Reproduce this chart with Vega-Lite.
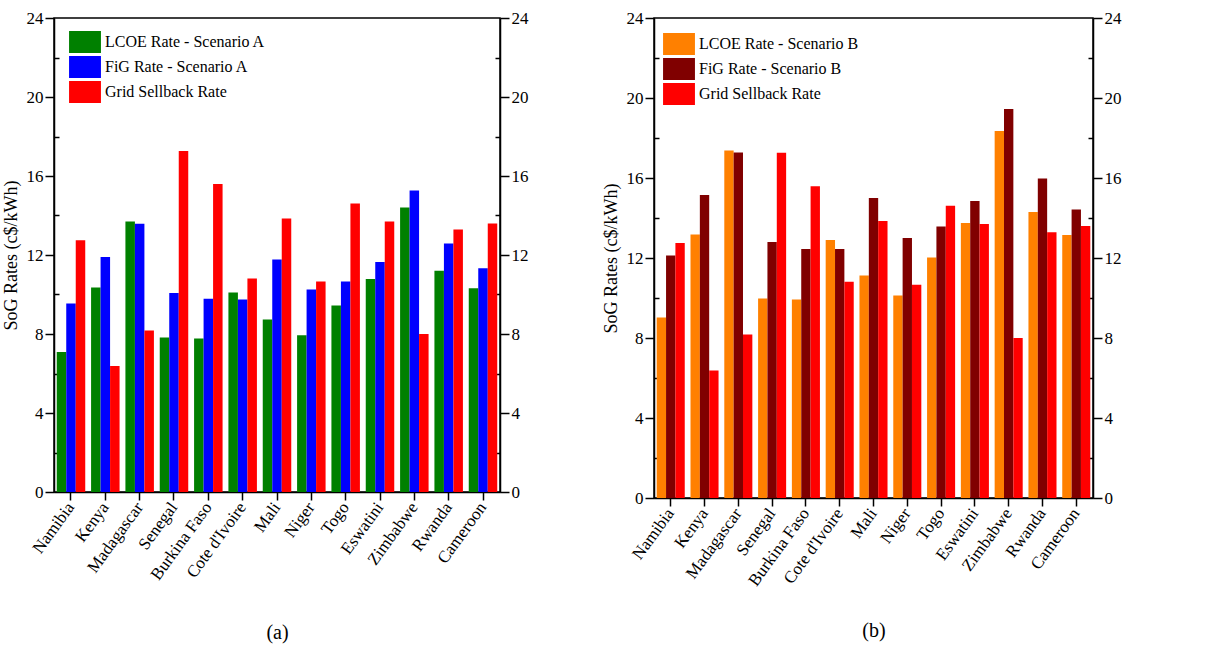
{
  "$schema": "https://vega.github.io/schema/vega-lite/v6.json",
  "background": "white",
  "padding": {"left": 1, "right": 5, "top": 8, "bottom": 5},
  "config": {
    "font": "Liberation Serif",
    "view": {"stroke": "black", "strokeWidth": 1.5},
    "axis": {"labelFont": "Liberation Serif", "titleFont": "Liberation Serif", "labelFontSize": 17, "titleFontSize": 18, "labelColor": "black", "titleColor": "black", "domainColor": "black", "tickColor": "black", "domainWidth": 1.5, "tickWidth": 1.5, "grid": false, "titleFontWeight": "normal"},
    "legend": {"labelFont": "Liberation Serif", "labelFontSize": 16, "labelColor": "black", "padding": 0}
  },
  "datasets": {
    "a": [
      {"country": "Namibia", "series": "LCOE Rate - Scenario A", "value": 7.09},
      {"country": "Namibia", "series": "FiG Rate - Scenario A", "value": 9.54},
      {"country": "Namibia", "series": "Grid Sellback Rate", "value": 12.75},
      {"country": "Kenya", "series": "LCOE Rate - Scenario A", "value": 10.35},
      {"country": "Kenya", "series": "FiG Rate - Scenario A", "value": 11.9},
      {"country": "Kenya", "series": "Grid Sellback Rate", "value": 6.38},
      {"country": "Madagascar", "series": "LCOE Rate - Scenario A", "value": 13.7},
      {"country": "Madagascar", "series": "FiG Rate - Scenario A", "value": 13.58},
      {"country": "Madagascar", "series": "Grid Sellback Rate", "value": 8.18},
      {"country": "Senegal", "series": "LCOE Rate - Scenario A", "value": 7.82},
      {"country": "Senegal", "series": "FiG Rate - Scenario A", "value": 10.07},
      {"country": "Senegal", "series": "Grid Sellback Rate", "value": 17.26},
      {"country": "Burkina Faso", "series": "LCOE Rate - Scenario A", "value": 7.77},
      {"country": "Burkina Faso", "series": "FiG Rate - Scenario A", "value": 9.78},
      {"country": "Burkina Faso", "series": "Grid Sellback Rate", "value": 15.59},
      {"country": "Cote d'Ivoire", "series": "LCOE Rate - Scenario A", "value": 10.1},
      {"country": "Cote d'Ivoire", "series": "FiG Rate - Scenario A", "value": 9.75},
      {"country": "Cote d'Ivoire", "series": "Grid Sellback Rate", "value": 10.81},
      {"country": "Mali", "series": "LCOE Rate - Scenario A", "value": 8.73},
      {"country": "Mali", "series": "FiG Rate - Scenario A", "value": 11.77},
      {"country": "Mali", "series": "Grid Sellback Rate", "value": 13.85},
      {"country": "Niger", "series": "LCOE Rate - Scenario A", "value": 7.94},
      {"country": "Niger", "series": "FiG Rate - Scenario A", "value": 10.25},
      {"country": "Niger", "series": "Grid Sellback Rate", "value": 10.66},
      {"country": "Togo", "series": "LCOE Rate - Scenario A", "value": 9.44},
      {"country": "Togo", "series": "FiG Rate - Scenario A", "value": 10.66},
      {"country": "Togo", "series": "Grid Sellback Rate", "value": 14.61},
      {"country": "Eswatini", "series": "LCOE Rate - Scenario A", "value": 10.79},
      {"country": "Eswatini", "series": "FiG Rate - Scenario A", "value": 11.65},
      {"country": "Eswatini", "series": "Grid Sellback Rate", "value": 13.7},
      {"country": "Zimbabwe", "series": "LCOE Rate - Scenario A", "value": 14.41},
      {"country": "Zimbabwe", "series": "FiG Rate - Scenario A", "value": 15.27},
      {"country": "Zimbabwe", "series": "Grid Sellback Rate", "value": 8.0},
      {"country": "Rwanda", "series": "LCOE Rate - Scenario A", "value": 11.2},
      {"country": "Rwanda", "series": "FiG Rate - Scenario A", "value": 12.58},
      {"country": "Rwanda", "series": "Grid Sellback Rate", "value": 13.29},
      {"country": "Cameroon", "series": "LCOE Rate - Scenario A", "value": 10.32},
      {"country": "Cameroon", "series": "FiG Rate - Scenario A", "value": 11.33},
      {"country": "Cameroon", "series": "Grid Sellback Rate", "value": 13.6}
    ],
    "b": [
      {"country": "Namibia", "series": "LCOE Rate - Scenario B", "value": 9.03},
      {"country": "Namibia", "series": "FiG Rate - Scenario B", "value": 12.13},
      {"country": "Namibia", "series": "Grid Sellback Rate ", "value": 12.75},
      {"country": "Kenya", "series": "LCOE Rate - Scenario B", "value": 13.18},
      {"country": "Kenya", "series": "FiG Rate - Scenario B", "value": 15.15},
      {"country": "Kenya", "series": "Grid Sellback Rate ", "value": 6.38},
      {"country": "Madagascar", "series": "LCOE Rate - Scenario B", "value": 17.38},
      {"country": "Madagascar", "series": "FiG Rate - Scenario B", "value": 17.28},
      {"country": "Madagascar", "series": "Grid Sellback Rate ", "value": 8.18},
      {"country": "Senegal", "series": "LCOE Rate - Scenario B", "value": 9.98},
      {"country": "Senegal", "series": "FiG Rate - Scenario B", "value": 12.8},
      {"country": "Senegal", "series": "Grid Sellback Rate ", "value": 17.26},
      {"country": "Burkina Faso", "series": "LCOE Rate - Scenario B", "value": 9.93},
      {"country": "Burkina Faso", "series": "FiG Rate - Scenario B", "value": 12.45},
      {"country": "Burkina Faso", "series": "Grid Sellback Rate ", "value": 15.59},
      {"country": "Cote d'Ivoire", "series": "LCOE Rate - Scenario B", "value": 12.9},
      {"country": "Cote d'Ivoire", "series": "FiG Rate - Scenario B", "value": 12.45},
      {"country": "Cote d'Ivoire", "series": "Grid Sellback Rate ", "value": 10.81},
      {"country": "Mali", "series": "LCOE Rate - Scenario B", "value": 11.12},
      {"country": "Mali", "series": "FiG Rate - Scenario B", "value": 15.0},
      {"country": "Mali", "series": "Grid Sellback Rate ", "value": 13.85},
      {"country": "Niger", "series": "LCOE Rate - Scenario B", "value": 10.13},
      {"country": "Niger", "series": "FiG Rate - Scenario B", "value": 13.0},
      {"country": "Niger", "series": "Grid Sellback Rate ", "value": 10.66},
      {"country": "Togo", "series": "LCOE Rate - Scenario B", "value": 12.03},
      {"country": "Togo", "series": "FiG Rate - Scenario B", "value": 13.58},
      {"country": "Togo", "series": "Grid Sellback Rate ", "value": 14.61},
      {"country": "Eswatini", "series": "LCOE Rate - Scenario B", "value": 13.75},
      {"country": "Eswatini", "series": "FiG Rate - Scenario B", "value": 14.85},
      {"country": "Eswatini", "series": "Grid Sellback Rate ", "value": 13.7},
      {"country": "Zimbabwe", "series": "LCOE Rate - Scenario B", "value": 18.35},
      {"country": "Zimbabwe", "series": "FiG Rate - Scenario B", "value": 19.45},
      {"country": "Zimbabwe", "series": "Grid Sellback Rate ", "value": 8.0},
      {"country": "Rwanda", "series": "LCOE Rate - Scenario B", "value": 14.3},
      {"country": "Rwanda", "series": "FiG Rate - Scenario B", "value": 15.98},
      {"country": "Rwanda", "series": "Grid Sellback Rate ", "value": 13.29},
      {"country": "Cameroon", "series": "LCOE Rate - Scenario B", "value": 13.15},
      {"country": "Cameroon", "series": "FiG Rate - Scenario B", "value": 14.43},
      {"country": "Cameroon", "series": "Grid Sellback Rate ", "value": 13.6}
    ]
  },
  "resolve": {"scale": {"color": "independent", "xOffset": "independent", "x": "independent"}},
  "spacing": 72,
  "hconcat": [
    {
      "width": 446,
      "height": 474,
      "data": {"name": "a"},
      "layer": [
        {
          "mark": {"type": "bar"},
          "encoding": {
            "x": {"field": "country", "type": "nominal", "sort": null, "scale": {"paddingInner": 0.17, "paddingOuter": 0.08},
                  "axis": {"title": "(a)", "titleFontSize": 20, "titlePadding": 40, "labelAngle": -54, "tickSize": 8, "labelPadding": 4}},
            "xOffset": {"field": "series", "type": "nominal", "sort": null, "scale": {"paddingInner": 0, "paddingOuter": 0}},
            "y": {"field": "value", "type": "quantitative", "scale": {"domain": [0, 24], "nice": false},
                  "axis": {"title": "SoG Rates (c$/kWh)", "orient": "left", "values": [0, 4, 8, 12, 16, 20, 24], "tickSize": 9, "labelPadding": 2, "titlePadding": 6}},
            "color": {"field": "series", "type": "nominal", "sort": null,
                      "scale": {"domain": ["LCOE Rate - Scenario A", "FiG Rate - Scenario A", "Grid Sellback Rate"], "range": ["#008000", "#0000FF", "#FF0000"]},
                      "legend": {"title": null, "orient": "none", "legendX": 20, "legendY": 13, "symbolType": "M-1.45,-1L1.45,-1L1.45,1L-1.45,1Z", "symbolSize": 484, "symbolStrokeWidth": 0, "symbolOpacity": 1, "labelOffset": 9, "rowPadding": 3}}
          }
        },
        {
          "mark": {"type": "point", "opacity": 0},
          "encoding": {
            "x": {"field": "country", "type": "nominal", "sort": null},
            "y": {"field": "value", "type": "quantitative", "scale": {"domain": [0, 24], "nice": false},
                  "axis": {"title": null, "orient": "right", "values": [0, 4, 8, 12, 16, 20, 24], "tickSize": 9, "labelPadding": 2}}
          }
        },
        {
          "mark": {"type": "point", "opacity": 0},
          "encoding": {
            "x": {"field": "country", "type": "nominal", "sort": null},
            "y": {"field": "value", "type": "quantitative", "scale": {"domain": [0, 24], "nice": false},
                  "axis": {"title": null, "orient": "left", "values": [2, 6, 10, 14, 18, 22], "tickSize": -5, "labels": false, "domain": false}}
          }
        },
        {
          "mark": {"type": "point", "opacity": 0},
          "encoding": {
            "x": {"field": "country", "type": "nominal", "sort": null},
            "y": {"field": "value", "type": "quantitative", "scale": {"domain": [0, 24], "nice": false},
                  "axis": {"title": null, "orient": "right", "values": [2, 6, 10, 14, 18, 22], "tickSize": -5, "labels": false, "domain": false}}
          }
        }
      ],
      "resolve": {"scale": {"y": "independent"}, "axis": {"y": "independent"}}
    },
    {
      "width": 439,
      "height": 480,
      "data": {"name": "b"},
      "layer": [
        {
          "mark": {"type": "bar"},
          "encoding": {
            "x": {"field": "country", "type": "nominal", "sort": null, "scale": {"paddingInner": 0.17, "paddingOuter": 0.08},
                  "axis": {"title": "(b)", "titleFontSize": 20, "titlePadding": 32, "labelAngle": -54, "tickSize": 8, "labelPadding": 4}},
            "xOffset": {"field": "series", "type": "nominal", "sort": null, "scale": {"paddingInner": 0, "paddingOuter": 0}},
            "y": {"field": "value", "type": "quantitative", "scale": {"domain": [0, 24], "nice": false},
                  "axis": {"title": "SoG Rates (c$/kWh)", "orient": "left", "values": [0, 4, 8, 12, 16, 20, 24], "tickSize": 9, "labelPadding": 2, "titlePadding": 6}},
            "color": {"field": "series", "type": "nominal", "sort": null,
                      "scale": {"domain": ["LCOE Rate - Scenario B", "FiG Rate - Scenario B", "Grid Sellback Rate "], "range": ["#FF8000", "#800000", "#FF0000"]},
                      "legend": {"title": null, "orient": "none", "legendX": 14, "legendY": 15, "symbolType": "M-1.45,-1L1.45,-1L1.45,1L-1.45,1Z", "symbolSize": 484, "symbolStrokeWidth": 0, "symbolOpacity": 1, "labelOffset": 9, "rowPadding": 3}}
          }
        },
        {
          "mark": {"type": "point", "opacity": 0},
          "encoding": {
            "x": {"field": "country", "type": "nominal", "sort": null},
            "y": {"field": "value", "type": "quantitative", "scale": {"domain": [0, 24], "nice": false},
                  "axis": {"title": null, "orient": "right", "values": [0, 4, 8, 12, 16, 20, 24], "tickSize": 9, "labelPadding": 2}}
          }
        },
        {
          "mark": {"type": "point", "opacity": 0},
          "encoding": {
            "x": {"field": "country", "type": "nominal", "sort": null},
            "y": {"field": "value", "type": "quantitative", "scale": {"domain": [0, 24], "nice": false},
                  "axis": {"title": null, "orient": "left", "values": [2, 6, 10, 14, 18, 22], "tickSize": -5, "labels": false, "domain": false}}
          }
        },
        {
          "mark": {"type": "point", "opacity": 0},
          "encoding": {
            "x": {"field": "country", "type": "nominal", "sort": null},
            "y": {"field": "value", "type": "quantitative", "scale": {"domain": [0, 24], "nice": false},
                  "axis": {"title": null, "orient": "right", "values": [2, 6, 10, 14, 18, 22], "tickSize": -5, "labels": false, "domain": false}}
          }
        }
      ],
      "resolve": {"scale": {"y": "independent"}, "axis": {"y": "independent"}}
    }
  ]
}
